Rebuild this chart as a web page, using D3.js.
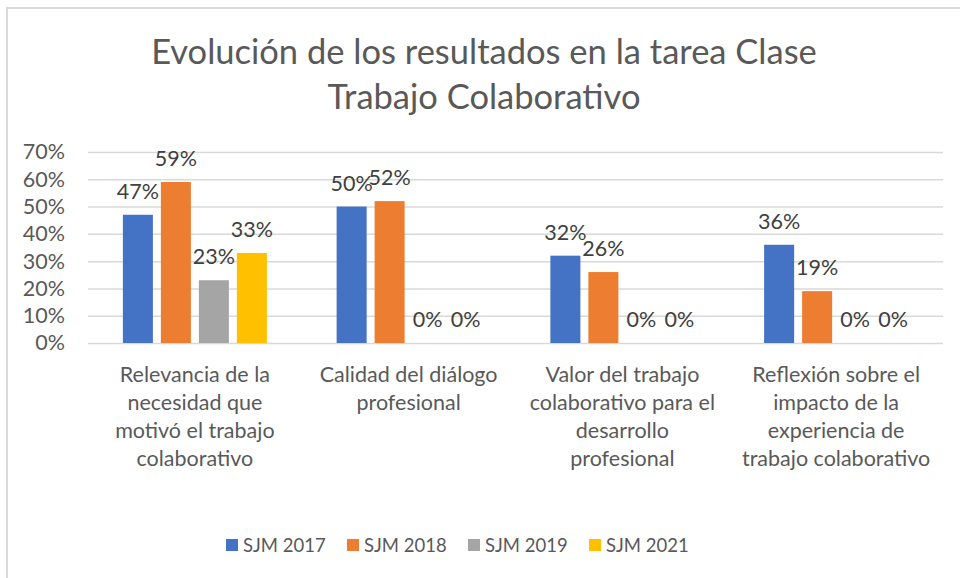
<!DOCTYPE html>
<html>
<head>
<meta charset="utf-8">
<script src="https://cdn.jsdelivr.net/npm/d3@7"></script>
<style>
  body { margin: 0; background: #fff; }
  svg text { font-family: Lato, "Open Sans", sans-serif; }
</style>
</head>
<body>
<div id="chart"></div>
<script>
var titleLines = ["Evolución de los resultados en la tarea Clase", "Trabajo Colaborativo"];
var categories = ["Relevancia", "Calidad", "Valor", "Reflexión"];
var categoryLines = [
    ["Relevancia de la", "necesidad que", "motivó el trabajo", "colaborativo"],
    ["Calidad del diálogo", "profesional"],
    ["Valor del trabajo", "colaborativo para el", "desarrollo", "profesional"],
    ["Reflexión sobre el", "impacto de la", "experiencia de", "trabajo colaborativo"]
];
var seriesNames = ["SJM 2017", "SJM 2018", "SJM 2019", "SJM 2021"];
var seriesColors = ["#4472C4", "#ED7D31", "#A5A5A5", "#FFC000"];
var sjm2017 = [0.47, 0.50, 0.32, 0.36];
var sjm2018 = [0.59, 0.52, 0.26, 0.19];
var sjm2019 = [0.23, 0, 0, 0];
var sjm2021 = [0.33, 0, 0, 0];
var yTicks = [0, 0.1, 0.2, 0.3, 0.4, 0.5, 0.6, 0.7];

var seriesValues = [sjm2017, sjm2018, sjm2019, sjm2021];

var width = 960, height = 578;
var margin = {top: 152, right: 17, bottom: 235, left: 88};
var plotW = width - margin.left - margin.right;
var plotH = height - margin.top - margin.bottom;

var svg = d3.select('#chart')
    .append('svg')
        .attr('width', width)
        .attr('height', height);

// chart area border (only top and left visible in the crop)
svg.append('path')
    .attr('d', 'M7,578 V8 H960')
    .attr('fill', 'none')
    .attr('stroke', '#d9d9d9')
    .attr('stroke-width', 2);

// title
svg.append('text')
    .attr('x', 484)
    .attr('y', 64)
    .attr('text-anchor', 'middle')
    .style('font-size', '34.5px')
    .style('fill', '#595959')
    .selectAll('tspan')
    .data(titleLines)
    .enter()
    .append('tspan')
        .attr('x', 484)
        .attr('dy', (d, i) => i === 0 ? 0 : 45)
        .text(d => d);

var g = svg.append('g')
    .attr('transform', 'translate(' + margin.left + ',' + margin.top + ')');

var yScale = d3.scaleLinear()
    .domain([0, 0.7])
    .range([plotH, 0]);

var yAxis = d3.axisLeft(yScale)
    .tickValues(yTicks)
    .tickFormat(d3.format('.0%'))
    .tickSize(-plotW)
    .tickPadding(23);

g.append('g')
    .attr('class', 'y-axis')
    .call(yAxis)
    .call(a => a.select('.domain').remove())
    .call(a => a.selectAll('line').attr('stroke', '#d9d9d9').attr('stroke-width', 1.5))
    .call(a => a.selectAll('text')
        .style('font-size', '21.5px')
        .style('fill', '#595959')
        .style('font-family', 'Lato, sans-serif'));

var x0 = d3.scaleBand()
    .domain(categories)
    .range([0, plotW]);

var x1 = d3.scaleBand()
    .domain(seriesNames)
    .range([0, x0.bandwidth()])
    .paddingInner(0.21)
    .paddingOuter(0.918);

var xAxis = d3.axisBottom(x0)
    .tickSize(0)
    .tickPadding(0)
    .tickFormat('');

var xg = g.append('g')
    .attr('transform', 'translate(0,' + plotH + ')')
    .call(xAxis)
    .call(a => a.select('.domain').remove());

xg.selectAll('.tick text')
    .attr('y', 39)
    .style('font-size', '21.5px')
    .style('fill', '#595959')
    .style('font-family', 'Lato, sans-serif')
    .each(function(d, i){
        var t = d3.select(this);
        t.selectAll('tspan')
            .data(categoryLines[i])
            .enter()
            .append('tspan')
                .attr('x', 0)
                .attr('dy', (l, j) => j === 0 ? 0 : 28)
                .text(l => l);
    });

var groups = g.selectAll('.group')
    .data(categories)
    .enter()
    .append('g')
    .attr('class', 'group')
    .attr('transform', d => 'translate(' + x0(d) + ',0)');

groups.selectAll('rect')
    .data((d, i) => seriesNames.map((s, j) => ({series: s, value: seriesValues[j][i], color: seriesColors[j]})))
    .enter()
    .append('rect')
        .attr('x', d => x1(d.series))
        .attr('y', d => yScale(d.value))
        .attr('width', x1.bandwidth())
        .attr('height', d => plotH - yScale(d.value))
        .style('fill', d => d.color);

groups.selectAll('.label')
    .data((d, i) => seriesNames.map((s, j) => ({series: s, value: seriesValues[j][i]})))
    .enter()
    .append('text')
        .attr('class', 'label')
        .attr('x', d => x1(d.series) + x1.bandwidth() / 2)
        .attr('y', d => yScale(d.value) - 16)
        .attr('text-anchor', 'middle')
        .style('font-size', '21.5px')
        .style('fill', '#404040')
        .text(d => d3.format('.0%')(d.value));

// legend
var legend = svg.append('g')
    .attr('transform', 'translate(226,545)');

var items = legend.selectAll('.item')
    .data(seriesNames)
    .enter()
    .append('g')
    .attr('class', 'item')
    .attr('transform', (d, i) => 'translate(' + (i * 121) + ',0)');

items.append('rect')
    .attr('x', 0)
    .attr('y', -6)
    .attr('width', 12)
    .attr('height', 12)
    .style('fill', (d, i) => seriesColors[i]);

items.append('text')
    .attr('x', 17)
    .attr('y', 7)
    .style('font-size', '18.5px')
    .style('fill', '#595959')
    .text(d => d);
</script>
</body>
</html>
